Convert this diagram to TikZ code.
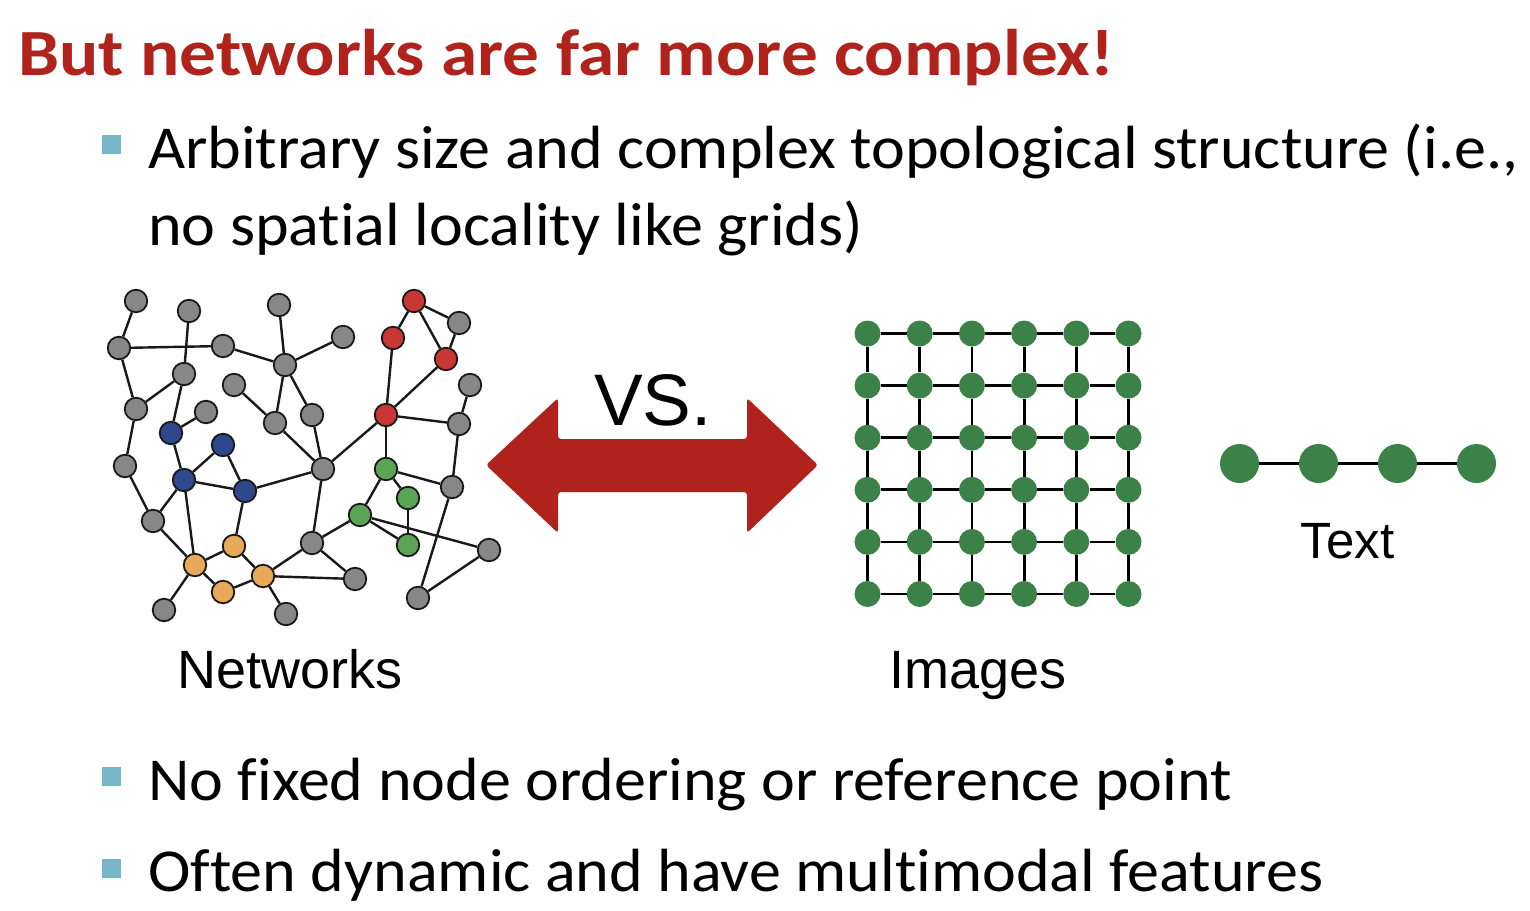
\documentclass[tikz,border=0pt]{standalone}
\usepackage{graphicx}
\usepackage{fontspec}
\setmainfont{Carlito}[Ligatures=CommonOff]
\newfontfamily\helv{Liberation Sans}
\definecolor{titlered}{RGB}{176,35,28}
\definecolor{bulletblue}{RGB}{120,181,201}
\definecolor{ngray}{RGB}{135,135,135}
\definecolor{nred}{RGB}{200,55,52}
\definecolor{nblue}{RGB}{46,72,142}
\definecolor{norange}{RGB}{232,170,88}
\definecolor{ngreen}{RGB}{90,165,85}
\definecolor{gridgreen}{RGB}{60,129,72}
\definecolor{arrowred}{RGB}{176,35,28}
\newcommand{\bodytext}[1]{\scalebox{1.05}[1]{#1}}
\begin{document}
\begin{tikzpicture}[x=1pt,y=-1pt,
  nd/.style={circle, draw=black!90, line width=1.8pt, minimum size=22.5pt, inner sep=0pt},
  gy/.style={nd, fill=ngray},
  rd/.style={nd, fill=nred},
  bl/.style={nd, fill=nblue},
  og/.style={nd, fill=norange},
  gn/.style={nd, fill=ngreen},
  edge/.style={line width=2.4pt, black!90},
  gdot/.style={circle, fill=gridgreen, minimum size=26pt, inner sep=0pt},
  tdot/.style={circle, fill=gridgreen, minimum size=39pt, inner sep=0pt},
  gline/.style={line width=2.8pt, black},
  bsq/.style={rectangle, fill=bulletblue, minimum size=19pt, inner sep=0pt},
  body/.style={anchor=base west, inner sep=0pt, font=\fontsize{61}{72}\selectfont},
  lab/.style={anchor=base, inner sep=0pt, font=\helv\fontsize{54}{60}\selectfont}
]
\useasboundingbox (0,0) rectangle (1530,910);

% title
\node[anchor=base west, inner sep=0pt, text=titlered, font=\bfseries\fontsize{66}{72}\selectfont] (title) at (18,75) {\scalebox{1.11}[1]{But networks are far more complex!}};

% bullets
\node[bsq] (bs1) at (111.5,144.5) {};
\node[body] (b1l1) at (148,168) {\bodytext{Arbitrary size and complex topological structure (i.e.,}};
\node[body] (b1l2) at (148,245) {\bodytext{no spatial locality like grids)}};
\node[bsq] (bs2) at (111.5,776.5) {};
\node[body] (b2) at (148,800) {\bodytext{No fixed node ordering or reference point}};
\node[bsq] (bs3) at (111.5,868) {};
\node[body] (b3) at (148,891) {\bodytext{Often dynamic and have multimodal features}};

% network nodes
\node[gy] (g1) at (136,301) {};
\node[gy] (g2) at (189,311) {};
\node[gy] (g3) at (279,305) {};
\node[gy] (g4) at (119,348) {};
\node[gy] (g5) at (223,346) {};
\node[gy] (g6) at (285,365) {};
\node[gy] (g7) at (343,337) {};
\node[gy] (g8) at (184,374) {};
\node[gy] (g9) at (234,385) {};
\node[gy] (g10) at (136,409) {};
\node[gy] (g11) at (206,412) {};
\node[gy] (g12) at (275,423) {};
\node[gy] (g13) at (312,415) {};
\node[gy] (g14) at (125,466) {};
\node[gy] (g15) at (459,323) {};
\node[gy] (g16) at (470,385) {};
\node[gy] (g17) at (459,424) {};
\node[gy] (g18) at (323,469) {};
\node[gy] (g19) at (153,521) {};
\node[gy] (g20) at (452,487) {};
\node[gy] (g21) at (312,543) {};
\node[gy] (g22) at (489,550) {};
\node[gy] (g23) at (355,579) {};
\node[gy] (g24) at (164,610) {};
\node[gy] (g25) at (286,614) {};
\node[gy] (g26) at (418,598) {};
\node[rd] (r1) at (414,301) {};
\node[rd] (r2) at (393,338) {};
\node[rd] (r3) at (446,359) {};
\node[rd] (r4) at (386,415) {};
\node[bl] (u1) at (171,433) {};
\node[bl] (u2) at (223,445) {};
\node[bl] (u3) at (184,480) {};
\node[bl] (u4) at (245,491) {};
\node[og] (o1) at (234,546) {};
\node[og] (o2) at (195,565) {};
\node[og] (o3) at (263,576) {};
\node[og] (o4) at (223,592) {};
\node[gn] (e1) at (386,469) {};
\node[gn] (e2) at (408,498) {};
\node[gn] (e3) at (360,515) {};
\node[gn] (e4) at (408,545) {};

\foreach \a/\b in {g1/g4, g4/g5, g2/g8, g5/g6, g3/g6, g6/g7, g6/g13, g6/g12, g9/g12, g12/g18,
  g4/g10, g10/g8, g8/u1, u1/g11, g10/g14, g14/g19, u1/u3, u3/u2, u2/u4, u3/u4, u3/g19, u3/o2,
  g19/o2, u4/o1, u4/g18, o2/o1, o2/o4, o1/o3, o4/o3, o2/g24, o3/g25, o3/g21, o3/g23, g18/r4,
  g18/g21, g21/e3, g21/g23, r4/e1, e1/e2, e1/e3, e1/g20, e2/e4, e3/e4, e3/g22, g17/g20, g20/g26,
  g26/g22, r1/r2, r1/g15, r1/r3, g15/r3, r2/r4, r3/r4, r4/g17, g16/g17, g13/g18}
  \draw[edge] (\a) -- (\b);

\node[lab] (netlab) at (290,688) {Networks};

% double arrow
\fill[arrowred, rounded corners=3pt] (486,465) -- (558,398) -- (558,439) -- (747,439) -- (747,398)
  -- (818,465) -- (747,533) -- (747,492) -- (558,492) -- (558,533) -- cycle;
\node[anchor=base west, inner sep=0pt, font=\helv\fontsize{73}{80}\selectfont] (vs) at (594,425) {VS.};

% image grid
\foreach \i in {0,...,5}
  \foreach \j in {0,...,5}
    \node[gdot] (p\i\j) at (867.5+52.2*\i, 333.5+52.1*\j) {};
\foreach \i in {0,...,5}
  \foreach \j [count=\k from 1] in {0,...,4} {
    \draw[gline] (p\i\j) -- (p\i\k);
    \draw[gline] (p\j\i) -- (p\k\i);
  }
\node[lab] (imglab) at (978,688) {Images};

% text chain
\node[tdot] (t1) at (1239.5,463.5) {};
\node[tdot] (t2) at (1318.5,463.5) {};
\node[tdot] (t3) at (1397.5,463.5) {};
\node[tdot] (t4) at (1476.5,463.5) {};
\draw[line width=2.2pt] (t1) -- (t2) (t2) -- (t3) (t3) -- (t4);
\node[lab, font=\helv\fontsize{51}{56}\selectfont] (txtlab) at (1347.5,558) {Text};
\end{tikzpicture}
\end{document}
